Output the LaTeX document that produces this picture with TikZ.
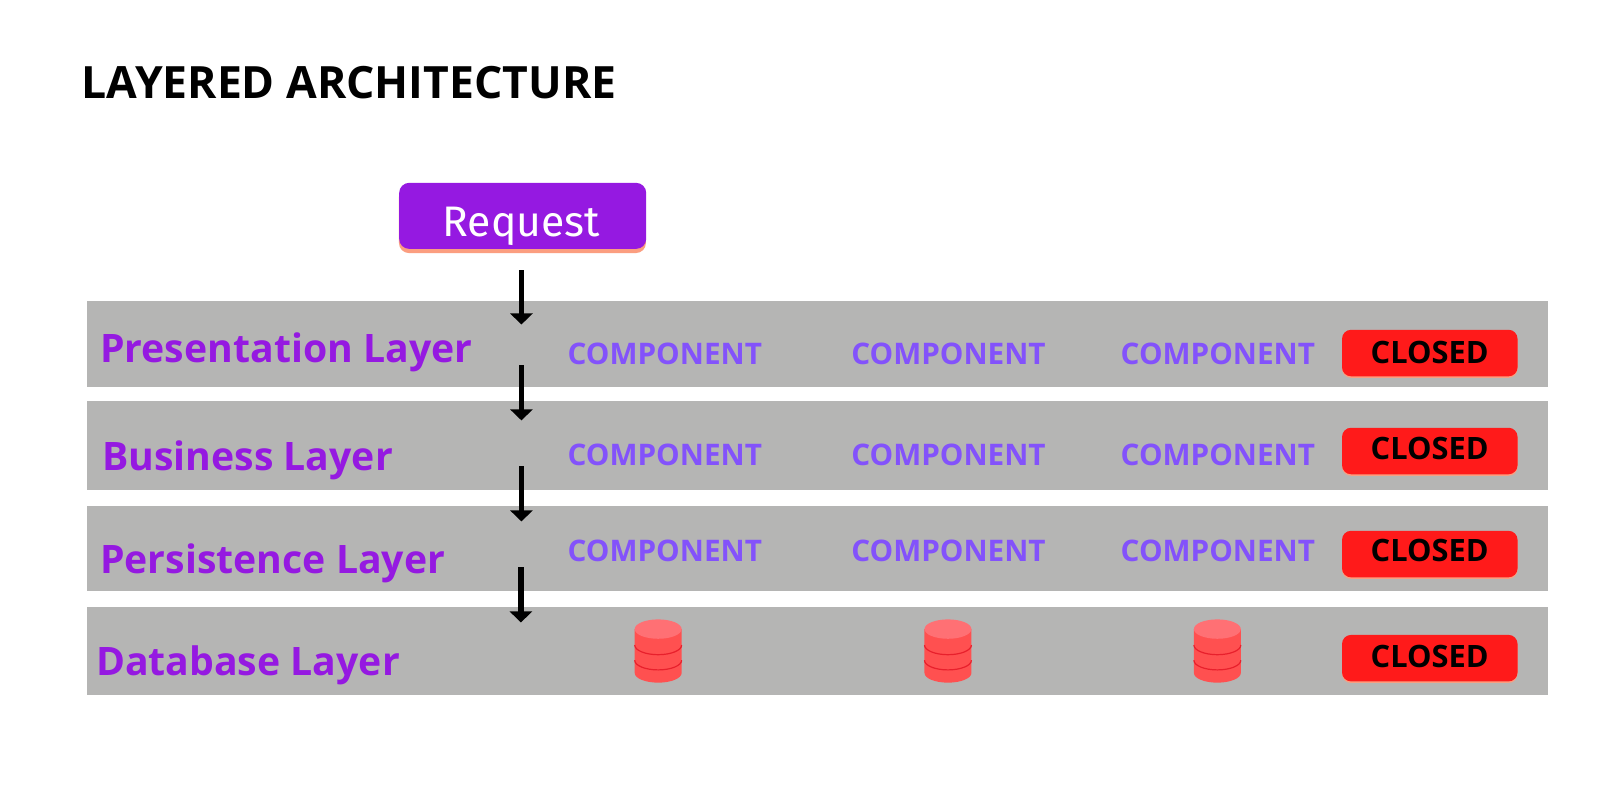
\documentclass[tikz,border=0pt]{standalone}
\usepackage{fontspec}
\setmainfont{Open Sans}
\newfontfamily\plex{Fira Sans}
\usetikzlibrary{arrows.meta}
\definecolor{bandgray}{HTML}{B5B5B4}
\definecolor{violetA}{HTML}{9519E1}
\definecolor{violetB}{HTML}{8352FB}
\definecolor{redA}{HTML}{FF1A1A}
\definecolor{salmon}{HTML}{FB9E80}
\definecolor{dbfill}{HTML}{FF5050}
\definecolor{dbtop}{HTML}{FF7074}
\definecolor{dbline}{HTML}{E8202C}
\tikzset{
  band/.style={fill=bandgray,draw=none,minimum width=1461.2pt,inner sep=0pt,anchor=north west},
  layerlabel/.style={font=\bfseries\fontsize{39.2}{39.2}\selectfont,text=violetA,anchor=base west,inner sep=0pt},
  comp/.style={font=\bfseries\fontsize{29.7}{29.7}\selectfont,text=violetB,anchor=base,inner sep=0pt},
  closedbox/.style={fill=redA,rounded corners=9pt,minimum width=175.5pt,minimum height=46.5pt,inner sep=0pt,anchor=north west,draw=none},
  closedshadow/.style={fill=salmon,rounded corners=9pt,minimum width=175.5pt,minimum height=46.5pt,inner sep=0pt,anchor=north west,draw=none},
  closedtext/.style={font=\bfseries\fontsize{30.8}{30.8}\selectfont,text=black,anchor=base,inner sep=0pt},
  flow/.style={-{Triangle[width=22pt,length=11pt]},line width=5.7pt,black},
}
\newcommand{\dbcyl}[2]{%
  \begin{scope}[shift={(#1,#2)}]
    \fill[dbfill] (-23,0) -- (-23,43) arc[x radius=23,y radius=9.5,start angle=180,end angle=0] -- (23,0) -- cycle;
    \draw[dbline,line width=1.2pt] (-23,15.6) arc[x radius=23,y radius=9.5,start angle=180,end angle=0];
    \draw[dbline,line width=1.2pt] (-23,30.5) arc[x radius=23,y radius=9.5,start angle=180,end angle=0];
    \fill[dbtop] (0,0) ellipse[x radius=23,y radius=9.5];
  \end{scope}}
\begin{document}
\begin{tikzpicture}[x=1.02041pt,y=-1.02041pt]
\useasboundingbox (0,0) rectangle (1568,784);
\fill[white] (0,0) rectangle (1568,784);
\node[anchor=base west,inner sep=0pt,font=\bfseries\fontsize{44.5}{44.5}\selectfont,text=black] (title) at (80,96.5) {LAYERED ARCHITECTURE};

% bands
\node[band,minimum height=85.7pt] (b1) at (85,295) {};
\node[band,minimum height=88.8pt] (b2) at (85,393) {};
\node[band,minimum height=84.7pt] (b3) at (85,496) {};
\node[band,minimum height=87.8pt] (b4) at (85,595) {};

% request
\fill[salmon,rounded corners=10pt] (391,183) rectangle (633,248);
\node[fill=violetA,rounded corners=10pt,minimum width=247pt,minimum height=66pt,inner sep=0pt,anchor=north west] (req) at (391,179) {};
\node[font=\plex\fontsize{42.7}{42.7}\selectfont,text=white,anchor=base,inner sep=0pt] (reqt) at (511,232) {Request};

% labels
\node[layerlabel] (l1) at (98,355) {Presentation Layer};
\node[layerlabel] (l2) at (100,461) {Business Layer};
\node[layerlabel] (l3) at (98,562) {Persistence Layer};
\node[layerlabel] (l4) at (94,662) {Database Layer};

% components
\foreach \x/\n in {651.5/a,929.5/b,1193.5/c}{
  \node[comp] (c1\n) at (\x,357) {COMPONENT};
  \node[comp] (c2\n) at (\x,456) {COMPONENT};
  \node[comp] (c3\n) at (\x,550) {COMPONENT};
}

% closed tags
\foreach \y/\n/\b in {323/1/356,419/2/450,520/3/550,622/4/654}{
  \node[closedshadow] (cs\n) at (1315,\y+1.5) {};
  \node[closedbox] (cb\n) at (1315,\y) {};
  \node[closedtext] (ct\n) at (1401,\b) {CLOSED};
}

% databases
\dbcyl{645}{616.5}
\dbcyl{929}{616.5}
\dbcyl{1193}{616.5}

% arrows
\coordinate (s1) at (511,265); \coordinate (e1) at (511,318);
\coordinate (s2) at (511,358); \coordinate (e2) at (511,412);
\coordinate (s3) at (511,457); \coordinate (e3) at (511,511);
\coordinate (s4) at (510.5,556); \coordinate (e4) at (510.5,610);
\draw[flow] (s1) -- (e1);
\draw[flow] (s2) -- (e2);
\draw[flow] (s3) -- (e3);
\draw[flow] (s4) -- (e4);
\end{tikzpicture}
\end{document}
